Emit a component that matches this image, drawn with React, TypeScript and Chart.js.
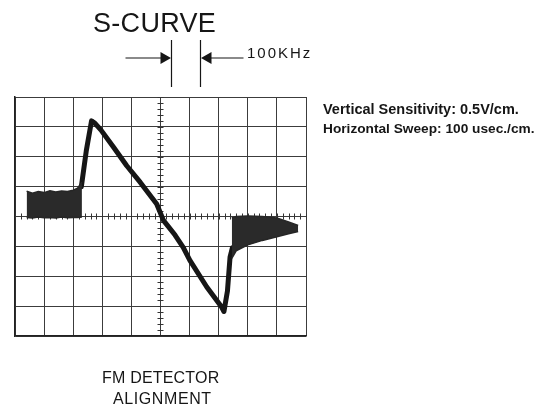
import { useEffect, useRef } from "react";
import { Chart, registerables } from "chart.js";
Chart.register(...registerables);

// Screen: 10 horizontal divisions, 8 vertical divisions (centered on 0)
const X_MIN = 0;
const X_MAX = 10;
const Y_MIN = -4;
const Y_MAX = 4;
const MINOR_STEP = 0.2;

// Noisy baseline band before the S-curve (divisions)
const bandLeftX = [0.4, 0.6, 0.8, 1.0, 1.2, 1.4, 1.6, 1.8, 2.0, 2.15, 2.3];
const bandLeftTop = [0.85, 0.78, 0.84, 0.8, 0.86, 0.82, 0.85, 0.84, 0.88, 0.95, 1.15];
const bandLeftBottom = [-0.03, -0.05, -0.02, -0.04, -0.03, -0.05, -0.02, -0.04, -0.03, -0.03, -0.02];

// The S-curve trace itself
const curveX = [2.28, 2.45, 2.63, 2.75, 2.95, 3.4, 3.84, 4.3, 4.87, 5.1, 5.5, 5.78, 6.01, 6.59, 7.1, 7.18, 7.3, 7.39, 7.47];
const curveY = [1.0, 2.2, 3.2, 3.12, 2.9, 2.3, 1.7, 1.15, 0.42, -0.13, -0.62, -1.03, -1.47, -2.36, -3.03, -3.18, -2.5, -1.36, -1.05];

// Noisy band after the S-curve
const bandRightX = [7.45, 7.6, 8.0, 8.5, 9.0, 9.4, 9.73];
const bandRightTop = [-0.05, 0.0, 0.02, 0.0, -0.05, -0.18, -0.3];
const bandRightBottom = [-1.4, -1.15, -0.95, -0.8, -0.68, -0.58, -0.5];

// Frequency marker (100 kHz) positions, in divisions
const markerX = [5.36, 6.36];

const FONT = '"Liberation Sans", Arial, Helvetica, sans-serif';
const INK = "#161616";

const pts = (xs: number[], ys: number[]) => xs.map((x, i) => ({ x, y: ys[i] }));

const minorTicks = {
  id: "minorTicks",
  beforeDatasetsDraw(chart: any) {
    const { ctx, scales } = chart;
    const xs = scales.x;
    const ys = scales.y;
    const cx = xs.getPixelForValue(5);
    const cy = ys.getPixelForValue(0);
    ctx.save();
    ctx.strokeStyle = "#333";
    ctx.lineWidth = 1;
    ctx.beginPath();
    for (let v = X_MIN; v <= X_MAX + 1e-9; v += MINOR_STEP) {
      const px = Math.round(xs.getPixelForValue(v)) + 0.5;
      ctx.moveTo(px, cy - 3);
      ctx.lineTo(px, cy + 3);
    }
    for (let v = Y_MIN; v <= Y_MAX + 1e-9; v += MINOR_STEP) {
      const py = Math.round(ys.getPixelForValue(v)) + 0.5;
      ctx.moveTo(cx - 3, py);
      ctx.lineTo(cx + 3, py);
    }
    ctx.stroke();
    ctx.restore();
  },
};

const markers = {
  id: "markers",
  afterDraw(chart: any) {
    const { ctx, scales, chartArea } = chart;
    const x1 = Math.round(scales.x.getPixelForValue(markerX[0])) + 0.5;
    const x2 = Math.round(scales.x.getPixelForValue(markerX[1])) + 0.5;
    const top = chartArea.top - 57;
    const bottom = chartArea.top - 10;
    const ay = chartArea.top - 39;
    ctx.save();
    ctx.strokeStyle = INK;
    ctx.fillStyle = INK;
    ctx.lineWidth = 1.2;
    ctx.beginPath();
    ctx.moveTo(x1, top);
    ctx.lineTo(x1, bottom);
    ctx.moveTo(x2, top);
    ctx.lineTo(x2, bottom);
    ctx.moveTo(x1 - 46, ay);
    ctx.lineTo(x1 - 8, ay);
    ctx.moveTo(x2 + 8, ay);
    ctx.lineTo(x2 + 43, ay);
    ctx.stroke();
    ctx.beginPath();
    ctx.moveTo(x1 - 0.5, ay);
    ctx.lineTo(x1 - 11, ay - 6);
    ctx.lineTo(x1 - 11, ay + 6);
    ctx.closePath();
    ctx.moveTo(x2 + 0.5, ay);
    ctx.lineTo(x2 + 11, ay - 6);
    ctx.lineTo(x2 + 11, ay + 6);
    ctx.closePath();
    ctx.fill();
    ctx.restore();
  },
};

function Label(props: { x: number; baseline: number; fs: number; text: string; bold?: boolean; ls?: number }) {
  const { x, baseline, fs, text, bold, ls } = props;
  return (
    <div
      style={{
        position: "absolute",
        left: x,
        top: baseline - 0.8465 * fs,
        fontFamily: FONT,
        fontSize: fs,
        lineHeight: `${fs}px`,
        fontWeight: bold ? 700 : 400,
        letterSpacing: ls ? `${ls}px` : undefined,
        color: INK,
        whiteSpace: "nowrap",
      }}
    >
      {text}
    </div>
  );
}

export default function App() {
  const ref = useRef<HTMLCanvasElement>(null);
  useEffect(() => {
    const bandStyle = {
      borderColor: "#262626",
      backgroundColor: "#2a2a2a",
      borderWidth: 1.5,
      pointRadius: 0,
      tension: 0,
    };
    const chart = new Chart(ref.current!, {
      type: "line",
      data: {
        datasets: [
          { ...bandStyle, data: pts(bandLeftX, bandLeftBottom), fill: false },
          { ...bandStyle, data: pts(bandLeftX, bandLeftTop), fill: "-1" },
          { ...bandStyle, data: pts(bandRightX, bandRightBottom), fill: false },
          { ...bandStyle, data: pts(bandRightX, bandRightTop), fill: "-1" },
          {
            data: pts(curveX, curveY),
            borderColor: INK,
            borderWidth: 5,
            borderJoinStyle: "round",
            borderCapStyle: "round",
            pointRadius: 0,
            tension: 0,
            fill: false,
          },
        ] as any,
      },
      options: {
        responsive: false,
        animation: false,
        events: [],
        layout: { padding: { left: 15, right: 231, top: 97, bottom: 75 } },
        plugins: { legend: { display: false }, tooltip: { enabled: false }, title: { display: false } },
        scales: {
          x: {
            type: "linear",
            min: X_MIN,
            max: X_MAX,
            ticks: { display: false, stepSize: 1 },
            grid: { color: "#3c3c3c", lineWidth: 1, drawTicks: false },
            border: { display: true, color: "#222", width: 1.5 },
          },
          y: {
            type: "linear",
            min: Y_MIN,
            max: Y_MAX,
            ticks: { display: false, stepSize: 1 },
            grid: { color: "#3c3c3c", lineWidth: 1, drawTicks: false },
            border: { display: true, color: "#222", width: 1.5 },
          },
        },
      },
      plugins: [minorTicks, markers],
    });
    return () => chart.destroy();
  }, []);

  return (
    <div style={{ position: "fixed", left: 0, top: 0, width: 537, height: 411, background: "#fff", overflow: "hidden" }}>
      <canvas ref={ref} width={537} height={411} style={{ position: "absolute", left: 0, top: 0, width: 537, height: 411 }} />
      <Label x={93} baseline={33.3} fs={27} ls={0.3} text="S-CURVE" />
      <Label x={247} baseline={57.7} fs={15} ls={2} text="100KHz" />
      <Label x={323} baseline={114.5} fs={14.5} bold text="Vertical Sensitivity: 0.5V/cm." />
      <Label x={323} baseline={134} fs={13.7} bold text="Horizontal Sweep: 100 usec./cm." />
      <Label x={102} baseline={383.5} fs={16} ls={0.2} text="FM DETECTOR" />
      <Label x={113} baseline={405} fs={16} ls={0.6} text="ALIGNMENT" />
    </div>
  );
}
